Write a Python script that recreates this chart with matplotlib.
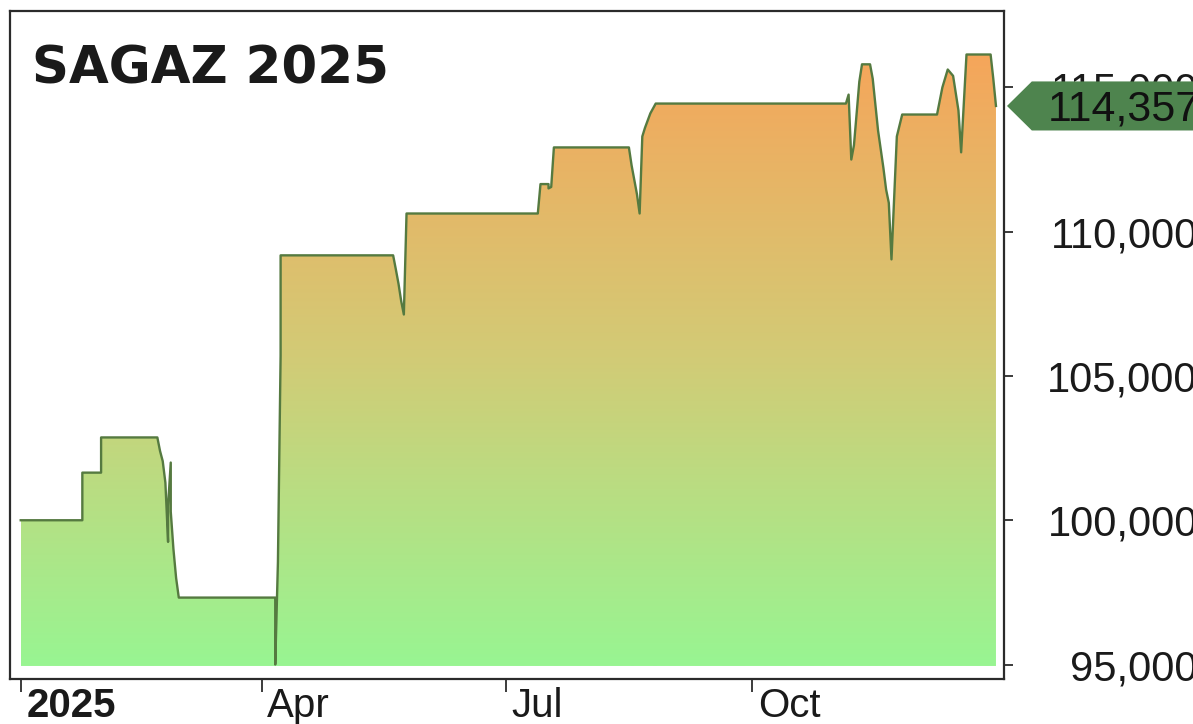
import pandas as pd
import matplotlib.pyplot as plt
import numpy as np
import matplotlib.dates as mdates
import matplotlib.transforms as mtransforms
from matplotlib.colors import LinearSegmentedColormap
from matplotlib.patches import Polygon

# equity curve
dates = ['2025-01-01', '2025-01-24', '2025-01-24', '2025-01-31', '2025-01-31',
         '2025-02-21', '2025-02-22', '2025-02-23', '2025-02-24', '2025-02-25',
         '2025-02-25', '2025-02-26', '2025-02-26', '2025-02-27', '2025-02-28',
         '2025-03-01', '2025-04-06', '2025-04-06', '2025-04-07', '2025-04-08',
         '2025-04-08', '2025-05-20', '2025-05-21', '2025-05-22', '2025-05-23',
         '2025-05-24', '2025-05-25', '2025-07-13', '2025-07-14', '2025-07-17',
         '2025-07-17', '2025-07-18', '2025-07-19', '2025-08-16', '2025-08-17',
         '2025-08-18', '2025-08-19', '2025-08-20', '2025-08-21', '2025-08-22',
         '2025-08-24', '2025-08-26', '2025-11-05', '2025-11-06', '2025-11-07',
         '2025-11-08', '2025-11-10', '2025-11-11', '2025-11-14', '2025-11-15',
         '2025-11-17', '2025-11-19', '2025-11-20', '2025-11-21', '2025-11-22',
         '2025-11-24', '2025-11-26', '2025-12-09', '2025-12-11', '2025-12-13',
         '2025-12-15', '2025-12-17', '2025-12-18', '2025-12-20', '2025-12-29',
         '2025-12-30', '2025-12-31']
values = [100000, 100000, 101650, 101650, 102870,
          102870, 102400, 102050, 101300, 99250,
          100500, 102000, 100300, 99000, 98000,
          97320, 97320, 95000, 98550, 105700,
          109180, 109180, 108700, 108200, 107600,
          107130, 110630, 110630, 111650, 111650,
          111500, 111550, 112920, 112920, 112300,
          111800, 111300, 110630, 113300, 113600,
          114100, 114440, 114440, 114750, 112500,
          113000, 115200, 115800, 115800, 115300,
          113500, 112200, 111460, 111000, 109040,
          113300, 114060, 114060, 115000, 115620,
          115400, 114200, 112750, 116140, 116140,
          115300, 114357]
last_value = 114357

ytick_values = [95000, 100000, 105000, 110000, 115000]
xtick_dates = ['2025-01-01', '2025-04-01', '2025-07-01', '2025-10-01']
xtick_labels = ['2025', 'Apr', 'Jul', 'Oct']
title = 'SAGAZ 2025'

plt.rcParams['font.family'] = ['Liberation Sans', 'DejaVu Sans']

fig = plt.figure(figsize=(11.93, 7.24), dpi=100)
ax = fig.add_axes([0.00838, 0.0622, 0.8332, 0.9227])

x = mdates.date2num(pd.to_datetime(dates))
y = np.array(values)
base = 94950

# gradient fill under the curve
poly = ax.fill_between(x, y, base, facecolor='none', edgecolor='none')
cmap = LinearSegmentedColormap.from_list('gr', ['#98f592', '#d2cb76', '#f6a55a'])
grad = np.linspace(0, 1, 256).reshape(-1, 1)
im = ax.imshow(grad, cmap=cmap, origin='lower', aspect='auto',
               extent=[x[0], x[-1], base, 116300], zorder=1)
im.set_clip_path(poly.get_paths()[0], transform=ax.transData)

ax.plot(x, y, color='#557a40', lw=1.7, zorder=3)

for s in ax.spines.values():
    s.set_color('#2b2b2b')
    s.set_linewidth(1.6)

# y axis on the right, labels right aligned at the picture edge
ax.yaxis.tick_right()
ax.set_yticks(ytick_values, ['{:,}'.format(v) for v in ytick_values])
ax.tick_params(axis='y', length=6.5, width=1.2, pad=133, labelsize=30,
               colors='#1a1a1a')
for t in ax.yaxis.get_major_ticks():
    t.label2.set_ha('right')

ax.set_xticks(mdates.date2num(pd.to_datetime(xtick_dates)), xtick_labels)
ax.tick_params(axis='x', length=9.5, width=1.2, pad=-3.6, labelsize=29,
               colors='#1a1a1a')
shift = mtransforms.ScaledTranslation(4 / 72, 0, fig.dpi_scale_trans)
for i, lbl in enumerate(ax.get_xticklabels()):
    lbl.set_ha('left')
    lbl.set_transform(lbl.get_transform() + shift)
    if i == 0:
        lbl.set_fontweight('bold')

ax.text(0.022, 0.892, title, transform=ax.transAxes, fontsize=37,
        fontweight='bold', family='DejaVu Sans', va='baseline', color='#1a1a1a')

# last value marker on the right axis
trans = mtransforms.blended_transform_factory(ax.transAxes, ax.transData)
h = 850
pts = [(1.003, last_value), (1.028, last_value + h), (1.2, last_value + h),
       (1.2, last_value - h), (1.028, last_value - h)]
ax.add_patch(Polygon(pts, closed=True, transform=trans, facecolor='#4e844e',
                     edgecolor='none', clip_on=False, zorder=5))
ax.text(1.044, last_value - 500, '{:,}'.format(last_value), transform=trans,
        fontsize=31, va='baseline', ha='left', color='#111111', zorder=6,
        clip_on=False)

ax.set_xlim(mdates.date2num(pd.Timestamp('2024-12-28')),
            mdates.date2num(pd.Timestamp('2026-01-03')))
ax.set_ylim(94500, 117650)

fig.savefig('out.png', dpi=100)
